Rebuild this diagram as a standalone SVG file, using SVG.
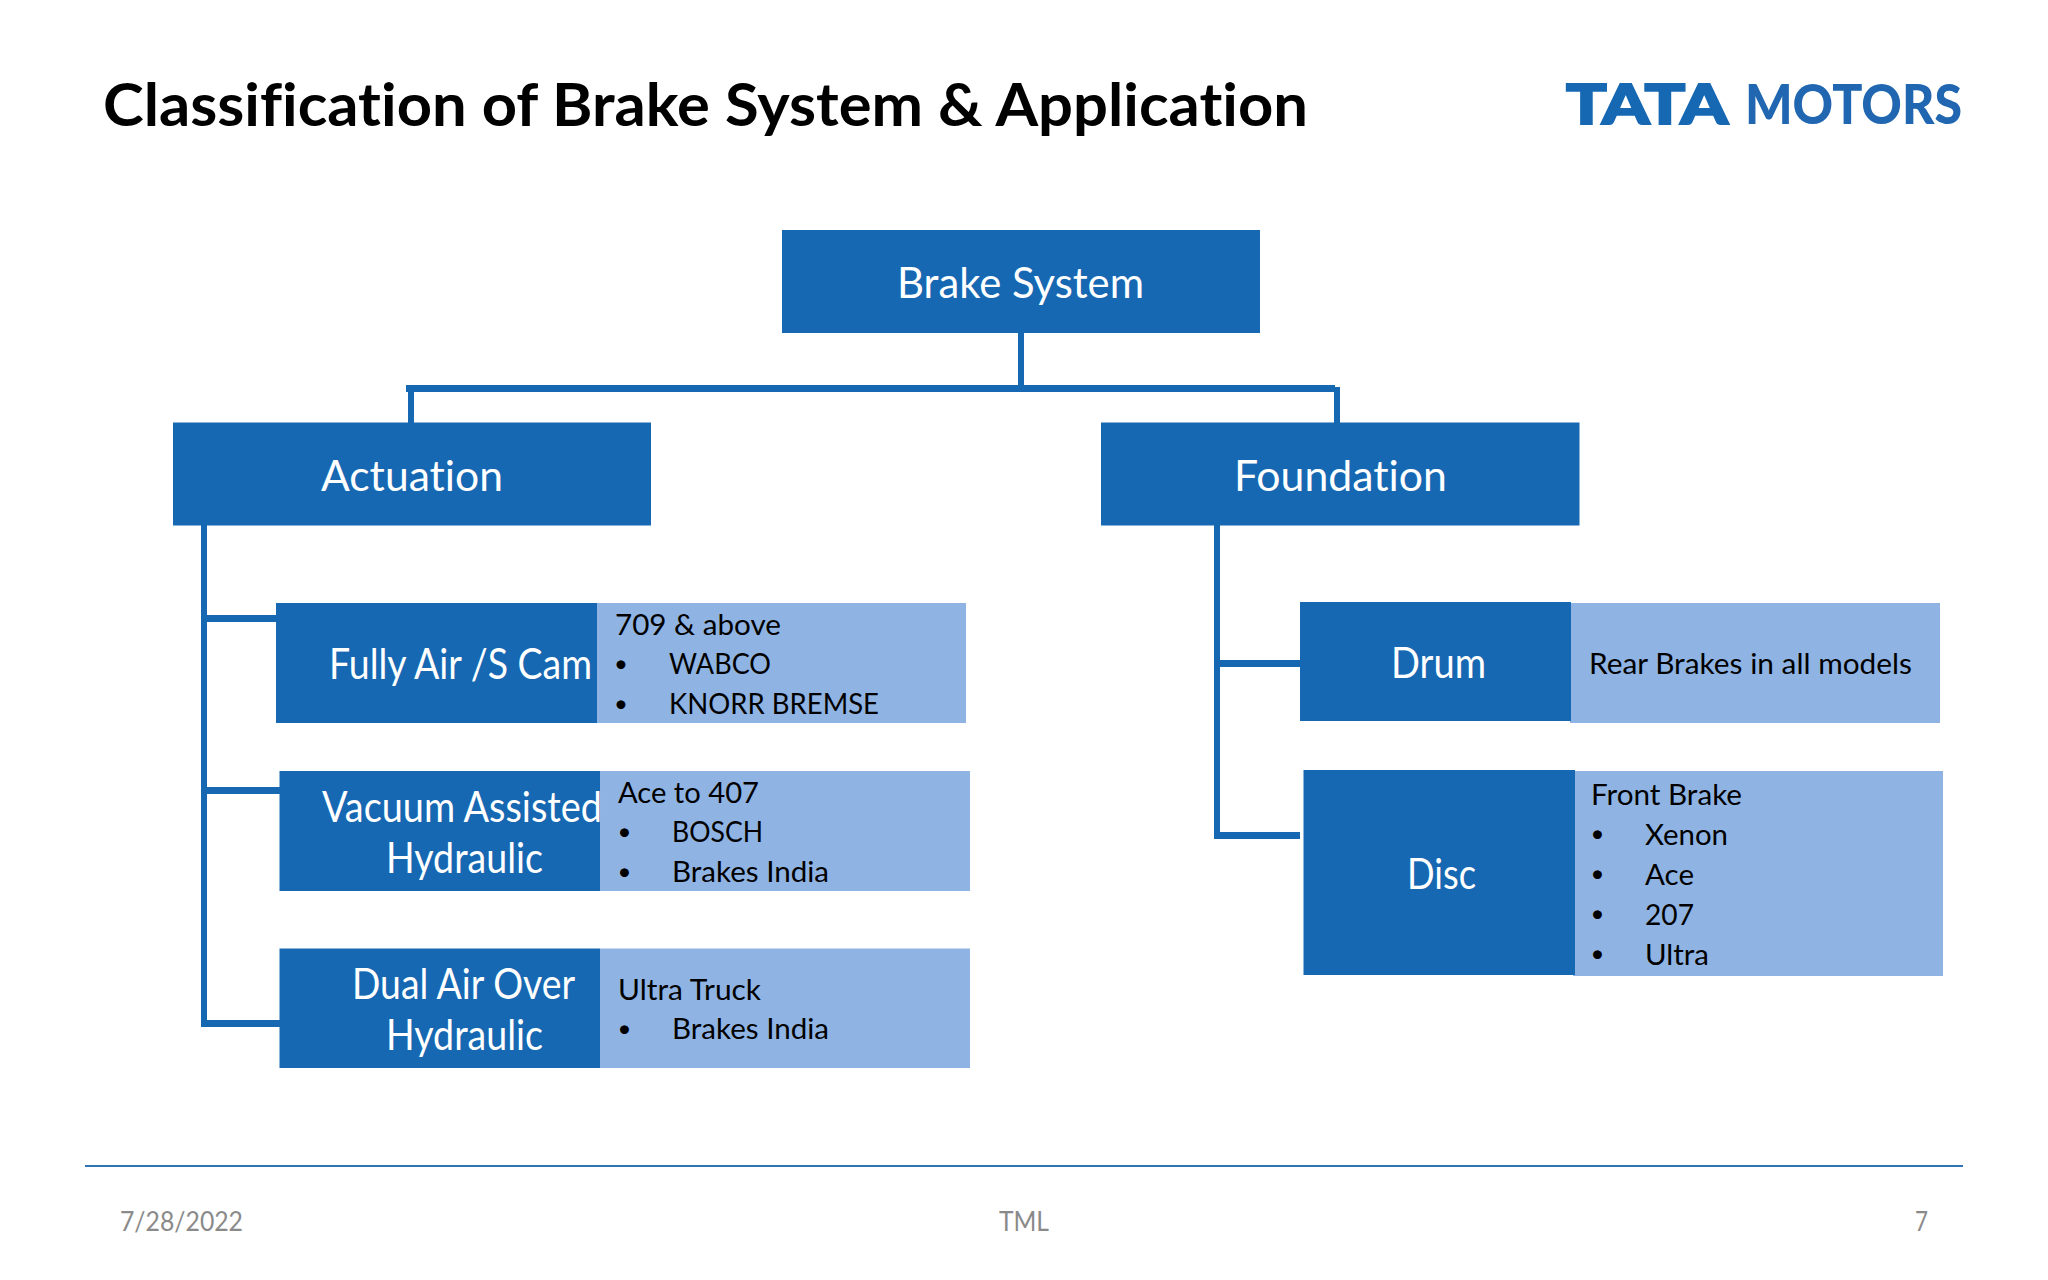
<svg xmlns="http://www.w3.org/2000/svg" width="2048" height="1280" viewBox="0 0 2048 1280">
<style>
text{font-family:"Lato","Open Sans",sans-serif;font-variant-ligatures:none}
.d{fill:#1668b3}
.l{fill:#8fb4e3}
.w{fill:#fff;font-size:42px}
.s{fill:#000;font-size:29px}
.b{fill:#000;font-size:24px}
.f{fill:#8a8a8a;font-size:26px}
.c{fill:#1668b3}
</style>
<rect width="2048" height="1280" fill="#fff"/>
<text id="title" x="103" y="126" font-size="60" font-weight="700" fill="#000" textLength="1205" lengthAdjust="spacingAndGlyphs">Classification of Brake System &amp; Application</text>
<g id="logo" fill="#1668b3">
<text x="1566" y="124" font-size="56" font-weight="900" stroke="#1668b3" stroke-width="2" textLength="162" lengthAdjust="spacingAndGlyphs">TATA</text>
<text x="1745" y="124" font-size="56" font-weight="900" fill="#2066b0" textLength="217" lengthAdjust="spacingAndGlyphs">MOTORS</text>
</g>
<g id="connectors">
<rect class="c" x="1018" y="333" width="6" height="54"/>
<rect class="c" x="406" y="385" width="929" height="7"/>
<rect class="c" x="408" y="390" width="6" height="33"/>
<rect class="c" x="1334" y="387" width="6" height="36"/>
<rect class="c" x="201" y="525" width="6" height="502"/>
<rect class="c" x="205" y="615" width="72" height="7"/>
<rect class="c" x="205" y="787" width="75" height="7"/>
<rect class="c" x="201" y="1020" width="79" height="7"/>
<rect class="c" x="1214" y="525" width="6" height="314"/>
<rect class="c" x="1214" y="660" width="86" height="7"/>
<rect class="c" x="1214" y="832" width="86" height="7"/>
</g>
<g id="brake-system">
<rect class="d" x="782" y="230" width="478" height="103"/>
<text class="w" x="897" y="298" textLength="247" lengthAdjust="spacingAndGlyphs">Brake System</text>
</g>
<g id="actuation">
<rect class="d" x="173" y="422.5" width="478" height="103"/>
<text class="w" x="321" y="491" textLength="182" lengthAdjust="spacingAndGlyphs">Actuation</text>
</g>
<g id="foundation">
<rect class="d" x="1101" y="422.5" width="478.5" height="103"/>
<text class="w" x="1234" y="491" textLength="213" lengthAdjust="spacingAndGlyphs">Foundation</text>
</g>
<g id="fully-air">
<rect class="l" x="597" y="603" width="369" height="120"/>
<rect class="d" x="276" y="603" width="321" height="120"/>
<text class="w" x="329" y="678.5" textLength="263" lengthAdjust="spacingAndGlyphs">Fully Air /S Cam</text>
<text class="s" x="615" y="635" textLength="166" lengthAdjust="spacingAndGlyphs">709 &amp; above</text>
<text class="b" x="614" y="671.5">•</text>
<text class="s" x="669" y="674" textLength="102" lengthAdjust="spacingAndGlyphs">WABCO</text>
<text class="b" x="614" y="711.5">•</text>
<text class="s" x="669" y="714" textLength="210" lengthAdjust="spacingAndGlyphs">KNORR BREMSE</text>
</g>
<g id="vacuum-assisted">
<rect class="l" x="600" y="771" width="370" height="120"/>
<rect class="d" x="279.5" y="771" width="320.5" height="120"/>
<text class="w" x="322" y="822" textLength="280" lengthAdjust="spacingAndGlyphs">Vacuum Assisted</text>
<text class="w" x="386" y="873" textLength="157" lengthAdjust="spacingAndGlyphs">Hydraulic</text>
<text class="s" x="618" y="803" textLength="141" lengthAdjust="spacingAndGlyphs">Ace to 407</text>
<text class="b" x="617.5" y="840">•</text>
<text class="s" x="672" y="842" textLength="91" lengthAdjust="spacingAndGlyphs">BOSCH</text>
<text class="b" x="617.5" y="879.5">•</text>
<text class="s" x="672" y="882" textLength="157" lengthAdjust="spacingAndGlyphs">Brakes India</text>
</g>
<g id="dual-air">
<rect class="l" x="600" y="948.5" width="370" height="119.5"/>
<rect class="d" x="279.5" y="948.5" width="320.5" height="119.5"/>
<text class="w" x="352" y="998.5" textLength="223" lengthAdjust="spacingAndGlyphs">Dual Air Over</text>
<text class="w" x="386" y="1049.5" textLength="157" lengthAdjust="spacingAndGlyphs">Hydraulic</text>
<text class="s" x="618" y="1000" textLength="143" lengthAdjust="spacingAndGlyphs">Ultra Truck</text>
<text class="b" x="617.5" y="1037">•</text>
<text class="s" x="672" y="1039" textLength="157" lengthAdjust="spacingAndGlyphs">Brakes India</text>
</g>
<g id="drum">
<rect class="l" x="1570" y="603" width="370" height="120"/>
<rect class="d" x="1300" y="602" width="271" height="119"/>
<text class="w" x="1391" y="678" textLength="95" lengthAdjust="spacingAndGlyphs">Drum</text>
<text class="s" x="1589" y="674" textLength="323" lengthAdjust="spacingAndGlyphs">Rear Brakes in all models</text>
</g>
<g id="disc">
<rect class="l" x="1573" y="771" width="370" height="205"/>
<rect class="d" x="1303.5" y="770" width="271.5" height="205"/>
<text class="w" x="1407" y="888.5" textLength="69" lengthAdjust="spacingAndGlyphs">Disc</text>
<text class="s" x="1591" y="805" textLength="151" lengthAdjust="spacingAndGlyphs">Front Brake</text>
<text class="b" x="1590.5" y="841.5">•</text>
<text class="s" x="1645" y="845" textLength="83" lengthAdjust="spacingAndGlyphs">Xenon</text>
<text class="b" x="1590.5" y="881.5">•</text>
<text class="s" x="1645" y="885" textLength="49" lengthAdjust="spacingAndGlyphs">Ace</text>
<text class="b" x="1590.5" y="921.5">•</text>
<text class="s" x="1645" y="925" textLength="49" lengthAdjust="spacingAndGlyphs">207</text>
<text class="b" x="1590.5" y="961.5">•</text>
<text class="s" x="1645" y="964.5" textLength="64" lengthAdjust="spacingAndGlyphs">Ultra</text>
</g>
<g id="footer">
<rect x="85" y="1165" width="1878" height="2" fill="#2e75b6"/>
<text class="f" x="120" y="1231" textLength="123" lengthAdjust="spacingAndGlyphs">7/28/2022</text>
<text class="f" x="999" y="1231" textLength="50" lengthAdjust="spacingAndGlyphs">TML</text>
<text class="f" x="1915" y="1231" textLength="13" lengthAdjust="spacingAndGlyphs">7</text>
</g>
</svg>
